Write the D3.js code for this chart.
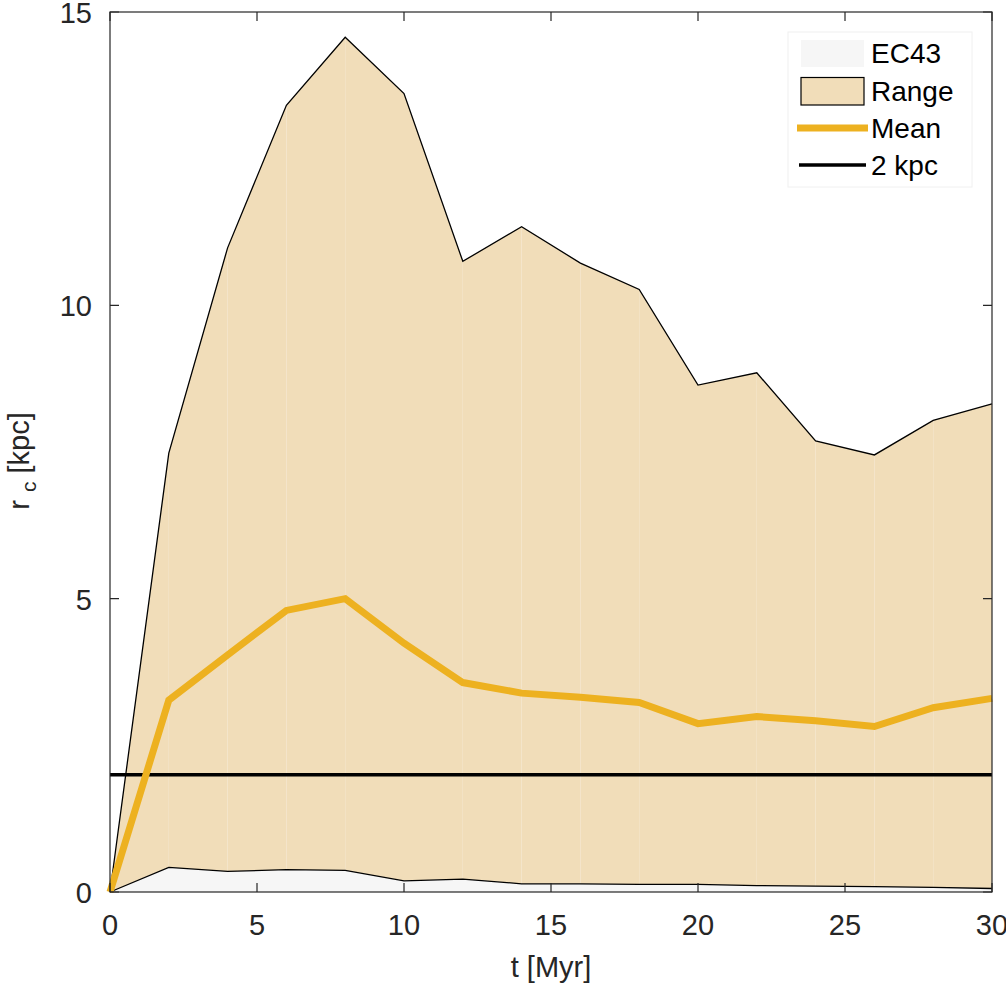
<!DOCTYPE html>
<html>
<head>
<meta charset="utf-8">
<script src="https://cdn.jsdelivr.net/npm/d3@7"></script>
<style>
  body { margin: 0; background: #fff; }
  svg { display: block; font-family: "Liberation Sans", Arial, sans-serif; }
</style>
</head>
<body>
<script>
// data
var times = [0, 2, 4, 6, 8, 10, 12, 14, 16, 18, 20, 22, 24, 26, 28, 30];
var rangeMax = [0, 7.48, 10.98, 13.41, 14.57, 13.61, 10.75, 11.34, 10.72, 10.27, 8.64, 8.85, 7.69, 7.45, 8.04, 8.32];
var rangeMin = [0, 0.42, 0.35, 0.38, 0.37, 0.19, 0.22, 0.14, 0.14, 0.13, 0.13, 0.11, 0.10, 0.09, 0.08, 0.06];
var meanVals = [0, 3.27, 4.04, 4.80, 5.00, 4.24, 3.57, 3.39, 3.32, 3.23, 2.87, 2.99, 2.92, 2.82, 3.14, 3.30];
var refLine = 2;
var xTicks = [0, 5, 10, 15, 20, 25, 30];
var yTicks = [0, 5, 10, 15];
var legendLabels = ["EC43", "Range", "Mean", "2 kpc"];

var w = 1006;
var h = 987;
// plot box (note: "top" is reserved on window, so prefixed names)
var padL = 110, padR = 992, padT = 12, padB = 892;
var axisCol = "#262626";
var rangeCol = "#f1ddb9";
var meanCol = "#edb120";
var ecCol = "#f6f6f6";

var svg = d3.select("body").append("svg")
  .attr("width", w)
  .attr("height", h);

var x = d3.scaleLinear().domain([0, 30]).range([padL, padR]);
var y = d3.scaleLinear().domain([0, 15]).range([padB, padT]);

var rows = times.map(function(t, i) {
  return {t: t, lo: rangeMin[i], hi: rangeMax[i], mean: meanVals[i]};
});

// EC43 patch (zero up to the min curve)
var ecArea = d3.area()
  .x(function(d) { return x(d.t); })
  .y0(function(d) { return y(0); })
  .y1(function(d) { return y(d.lo); });

svg.append("path")
  .datum(rows)
  .attr("d", ecArea)
  .attr("fill", ecCol);

// range patch, drawn segment by segment like the original
var segs = d3.pairs(rows);
svg.append("g")
  .selectAll("path")
  .data(segs)
  .enter()
  .append("path")
  .attr("d", function(p) {
    return "M" + x(p[0].t) + "," + y(p[0].lo) +
      "L" + x(p[1].t) + "," + y(p[1].lo) +
      "L" + x(p[1].t) + "," + y(p[1].hi) +
      "L" + x(p[0].t) + "," + y(p[0].hi) + "Z";
  })
  .attr("fill", rangeCol);

var hiLine = d3.line().x(function(d) { return x(d.t); }).y(function(d) { return y(d.hi); });
var loLine = d3.line().x(function(d) { return x(d.t); }).y(function(d) { return y(d.lo); });
var meanLine = d3.line().x(function(d) { return x(d.t); }).y(function(d) { return y(d.mean); });

svg.append("path").datum(rows).attr("d", hiLine)
  .attr("fill", "none").attr("stroke", "#000").attr("stroke-width", 1.3);
svg.append("path").datum(rows).attr("d", loLine)
  .attr("fill", "none").attr("stroke", "#000").attr("stroke-width", 1.3);

// 2 kpc reference
svg.append("line")
  .attr("x1", x(0)).attr("x2", x(30))
  .attr("y1", y(refLine)).attr("y2", y(refLine))
  .attr("stroke", "#000").attr("stroke-width", 3.5);

svg.append("path").datum(rows).attr("d", meanLine)
  .attr("fill", "none").attr("stroke", meanCol).attr("stroke-width", 7)
  .attr("stroke-linejoin", "miter");

// axes box with inward ticks on all sides
var tickLen = 9;
var ax = svg.append("g").attr("stroke", axisCol).attr("stroke-width", 1.2).attr("fill", "none");
ax.append("rect")
  .attr("x", padL).attr("y", padT)
  .attr("width", padR - padL).attr("height", padB - padT);

ax.selectAll(".xt").data(xTicks).enter().append("path")
  .attr("d", function(d) {
    return "M" + x(d) + "," + padB + "v" + (-tickLen) + "M" + x(d) + "," + padT + "v" + tickLen;
  });
ax.selectAll(".yt").data(yTicks).enter().append("path")
  .attr("d", function(d) {
    return "M" + padL + "," + y(d) + "h" + tickLen + "M" + padR + "," + y(d) + "h" + (-tickLen);
  });

svg.append("g").selectAll("text").data(xTicks).enter().append("text")
  .text(function(d) { return d; })
  .attr("x", function(d) { return x(d); })
  .attr("y", padB + 43)
  .attr("text-anchor", "middle")
  .attr("font-size", 29)
  .attr("fill", axisCol);

svg.append("g").selectAll("text").data(yTicks).enter().append("text")
  .text(function(d) { return d; })
  .attr("x", padL - 18)
  .attr("y", function(d) { return y(d) + 11; })
  .attr("text-anchor", "end")
  .attr("font-size", 29)
  .attr("fill", axisCol);

// axis titles
svg.append("text")
  .text("t [Myr]")
  .attr("x", (padL + padR) / 2)
  .attr("y", 977)
  .attr("text-anchor", "middle")
  .attr("font-size", 29)
  .attr("fill", axisCol);

var yl = svg.append("text")
  .attr("transform", "translate(29,461) rotate(-90)")
  .attr("text-anchor", "middle")
  .attr("font-size", 29)
  .attr("fill", axisCol);
yl.append("tspan").text("r");
yl.append("tspan").text("c").attr("dx", 8).attr("dy", 7).attr("font-size", 21);
yl.append("tspan").text(" [kpc]").attr("dy", -7);

// legend
var lg = svg.append("g");
lg.append("rect")
  .attr("x", 788).attr("y", 32).attr("width", 184).attr("height", 155)
  .attr("fill", "#fff").attr("stroke", "#f0f0f0").attr("stroke-width", 1);

var rowY = [53, 91, 128, 165];
lg.append("rect").attr("x", 801).attr("y", 40).attr("width", 63).attr("height", 27)
  .attr("fill", ecCol);
lg.append("rect").attr("x", 801).attr("y", 77.5).attr("width", 63).attr("height", 27.5)
  .attr("fill", rangeCol).attr("stroke", "#000").attr("stroke-width", 1.2);
lg.append("line").attr("x1", 797).attr("x2", 868).attr("y1", rowY[2]).attr("y2", rowY[2])
  .attr("stroke", meanCol).attr("stroke-width", 7);
lg.append("line").attr("x1", 799).attr("x2", 866).attr("y1", rowY[3]).attr("y2", rowY[3])
  .attr("stroke", "#000").attr("stroke-width", 3.5);

lg.selectAll("text").data(legendLabels).enter().append("text")
  .text(function(d) { return d; })
  .attr("x", 871)
  .attr("y", function(d, i) { return rowY[i] + 10; })
  .attr("font-size", 28)
  .attr("fill", "#000");
</script>
</body>
</html>
